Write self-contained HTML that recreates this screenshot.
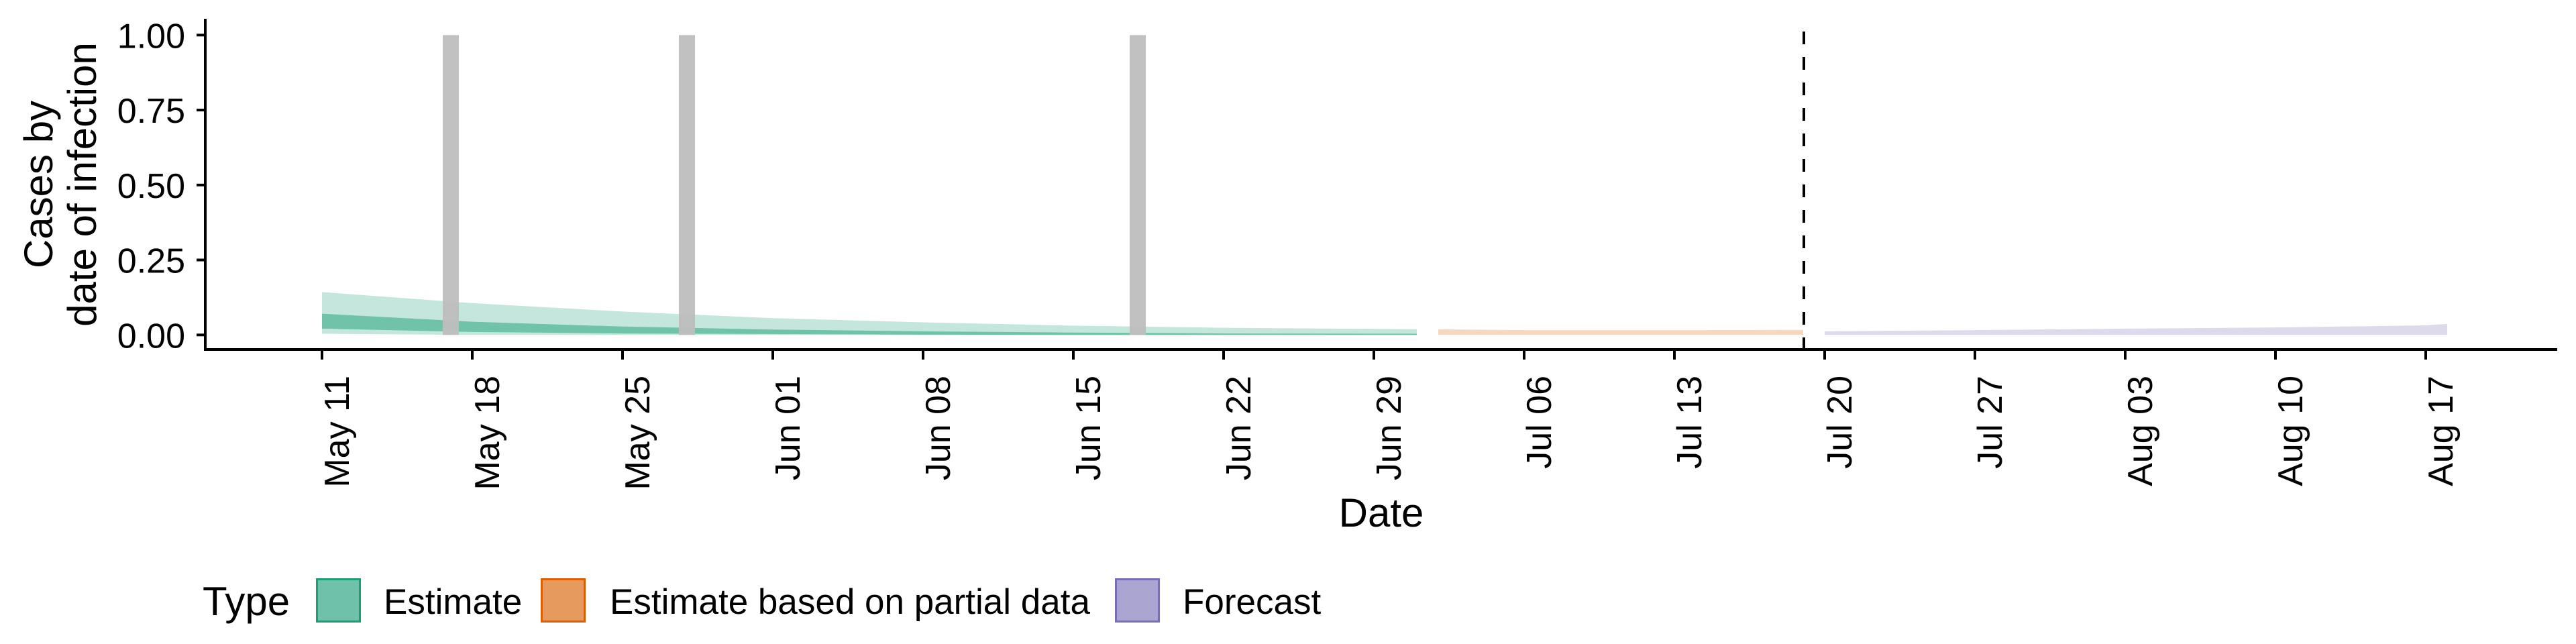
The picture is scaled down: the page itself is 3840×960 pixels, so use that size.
<!DOCTYPE html>
<html><head><meta charset="utf-8"><style>
html,body{margin:0;padding:0;background:#fff;}
svg{display:block;font-family:"Liberation Sans",Arial,sans-serif;}
</style></head><body>
<svg id="chart" width="3840" height="960" viewBox="0 0 3840 960" xmlns="http://www.w3.org/2000/svg">
<g id="ribbons"></g>
<g id="bars"></g>
<line x1="2689" y1="47" x2="2689" y2="521" stroke="#000" stroke-width="4" stroke-dasharray="19 19"/>
<g id="axes"></g>
<text transform="translate(78,275) rotate(-90)" text-anchor="middle" font-size="60">Cases by</text>
<text transform="translate(143,275) rotate(-90)" text-anchor="middle" font-size="60">date of infection</text>
<text x="2059" y="785" text-anchor="middle" font-size="60">Date</text>
<g>
<text x="302" y="917" font-size="60">Type</text>
<rect x="472.5" y="863.5" width="64" height="63" fill="#70c1aa" stroke="#1b9e77" stroke-width="3"/>
<text x="572" y="915" font-size="53">Estimate</text>
<rect x="807.5" y="863.5" width="64" height="63" fill="#e69a5e" stroke="#d95f02" stroke-width="3"/>
<text x="909" y="915" font-size="53">Estimate based on partial data</text>
<rect x="1663.5" y="863.5" width="64" height="63" fill="#aaa6d1" stroke="#7570b3" stroke-width="3"/>
<text x="1763" y="915" font-size="53">Forecast</text>
</g>
</svg>
<script>
// Data (days since May 11)
const estDays = [0, 7, 14, 21, 28, 35, 42, 51];
const estLightLo = [0.004, 0, 0, 0, 0, 0, 0, 0];
const estLightHi = [0.143, 0.106, 0.078, 0.056, 0.042, 0.031, 0.024, 0.019];
const estDarkLo = [0.021, 0.010, 0.005, 0.003, 0.001, 0, 0, 0];
const estDarkHi = [0.071, 0.044, 0.028, 0.018, 0.012, 0.008, 0.005, 0.004];
const partDays = [52, 56, 60, 64, 69];
const partLo = [0, 0, 0, 0, 0];
const partHi = [0.019, 0.016, 0.016, 0.016, 0.017];
const foreDays = [70, 77, 84, 91, 95, 98, 99];
const foreLo = [0, 0, 0, 0, 0, 0, 0];
const foreHi = [0.012, 0.016, 0.021, 0.025, 0.029, 0.032, 0.037];
const barDays = [6, 17, 38];
const barValues = [1, 1, 1];
const tickDays = [0,7,14,21,28,35,42,49,56,63,70,77,84,91,98];
const tickLabels = ["May 11","May 18","May 25","Jun 01","Jun 08","Jun 15","Jun 22","Jun 29","Jul 06","Jul 13","Jul 20","Jul 27","Aug 03","Aug 10","Aug 17"];
const yTicks = [0, 0.25, 0.5, 0.75, 1];
const yTickLabels = ["0.00","0.25","0.50","0.75","1.00"];

const NS = "http://www.w3.org/2000/svg";
function xs(d){ return 480 + d * 32.0; }
function ys(v){ return 499.3 - v * 447; }
function mk(tag, attrs){ const e = document.createElementNS(NS, tag); for (const k in attrs) e.setAttribute(k, attrs[k]); return e; }
function ribbon(days, lo, hi, fill, name){
  let d = "M" + days.map((t,i)=>xs(t)+","+ys(hi[i])).join("L");
  for (let i = days.length-1; i >= 0; i--) d += "L" + xs(days[i]) + "," + ys(lo[i]);
  d += "Z";
  const p = mk("path", {d: d, fill: fill});
  
  
  document.getElementById("ribbons").appendChild(p);
}
ribbon(estDays, estLightLo, estLightHi, "#c4e6dc", "estimate-band-90");
ribbon(estDays, estDarkLo, estDarkHi, "#70c2a9", "estimate-band-50");
ribbon(partDays, partLo, partHi, "#f6d7bf", "partial-band-90");
ribbon(foreDays, foreLo, foreHi, "#dcdaeb", "forecast-band-90");

const bars = document.getElementById("bars");
barDays.forEach((d,i)=>{
  const r = mk("rect", {x: xs(d)-12, y: ys(barValues[i]), width: 24, height: ys(0)-ys(barValues[i]), fill: "#bebebe", "fill-opacity": 0.95});
  
  
  bars.appendChild(r);
});
const ax = document.getElementById("axes");
const yl = mk("line", {x1: 306, y1: 28, x2: 306, y2: 522.5, stroke: "#000", "stroke-width": 4});


ax.appendChild(yl);
const xl = mk("line", {x1: 304, y1: 521, x2: 3812, y2: 521, stroke: "#000", "stroke-width": 4});


ax.appendChild(xl);
yTicks.forEach((v,i)=>{
  const t = mk("line", {x1: 293, x2: 306, y1: ys(v), y2: ys(v), stroke: "#000", "stroke-width": 4});
  
  
  ax.appendChild(t);
  const l = mk("text", {x: 276, y: ys(v) + 19, "text-anchor": "end", "font-size": 52});
  
  
  l.textContent = yTickLabels[i];
  ax.appendChild(l);
});
tickDays.forEach((d,i)=>{
  const x = xs(d);
  const t = mk("line", {x1: x, x2: x, y1: 521, y2: 536, stroke: "#000", "stroke-width": 4});
  
  
  ax.appendChild(t);
  const l = mk("text", {transform: "translate(" + (x + 40) + ",560) rotate(-90)", "text-anchor": "end", "font-size": 52});
  
  
  l.textContent = tickLabels[i];
  ax.appendChild(l);
});
</script>
</body></html>
